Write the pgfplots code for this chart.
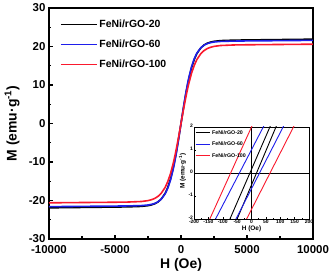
\documentclass[border=0pt]{standalone}
\usepackage{pgfplots}
\pgfplotsset{compat=1.18}
\usepackage{fontspec}
\setmainfont{Liberation Sans}
\definecolor{cblue}{RGB}{30,30,235}
\definecolor{cred}{RGB}{250,25,45}
\begin{document}
\begin{tikzpicture}
\begin{axis}[name=main, at={(0,0)}, anchor=south west,
  scale only axis, width=264bp, height=231bp,
  xmin=-10000, xmax=10000, ymin=-30, ymax=30,
  xtick={-10000,-5000,0,5000,10000}, minor xtick={-7500,-2500,2500,7500},
  ytick={-30,-20,...,30}, minor ytick={-25,-15,...,25},
  tick align=inside, xtick pos=left, ytick pos=left,
  major tick length=4bp, minor tick length=2.5bp,
  axis line style={line width=1.8bp},
  every tick/.style={line width=1.4bp, black},
  scaled x ticks=false,
  /pgf/number format/assume math mode=true,
  xticklabel style={/pgf/number format/1000 sep={}, yshift=-2.5bp},
  tick label style={font=\bfseries\fontsize{11.5}{11.5}\selectfont},
  xlabel={H (Oe)}, ylabel={M (emu\textperiodcentered g\textsuperscript{-1})},
  label style={font=\bfseries\fontsize{14}{14}\selectfont},
  xlabel style={at={(axis description cs:0.5,-0.113)}, anchor=center},
  ylabel style={at={(axis description cs:-0.14,0.5)}, anchor=center},
  legend cell align=left,
  legend style={draw=none, fill=none, at={(axis description cs:0,1)}, anchor=north west,
    xshift=8bp, yshift=-8bp, font=\bfseries\fontsize{10.5}{10.5}\selectfont,
    row sep=7bp},
  legend image code/.code={\draw[#1, line width=1.2bp] (0bp,0bp) -- (36bp,0bp);},
]
\addplot[black, line width=1.6bp] coordinates {
(-10000,-21.90) (-7000,-21.78) (-5000,-21.70) (-4000,-21.65) (-3000,-21.53) (-2500,-21.34)
(-2250,-21.16) (-2000,-20.87) (-1750,-20.40) (-1500,-19.64) (-1200,-18.13) (-1000,-16.59)
(-800,-14.50) (-600,-11.75) (-500,-10.12) (-400,-8.34) (-300,-6.39) (-200,-4.34) (-100,-2.19)
(0,0) (100,2.19) (200,4.34) (300,6.39) (400,8.34) (500,10.12) (600,11.75) (800,14.50)
(1000,16.59) (1200,18.13) (1500,19.64) (1750,20.40) (2000,20.87) (2250,21.16) (2500,21.34)
(3000,21.53) (4000,21.65) (5000,21.70) (7000,21.78) (10000,21.90)};
\addlegendentry{FeNi/rGO-20}
\addplot[cblue, line width=1.6bp] coordinates {
(-10000,-21.60) (-7000,-21.51) (-5000,-21.45) (-4000,-21.41) (-3000,-21.32) (-2500,-21.17)
(-2250,-21.01) (-2000,-20.77) (-1750,-20.35) (-1500,-19.67) (-1200,-18.27) (-1000,-16.80)
(-800,-14.76) (-600,-12.02) (-500,-10.39) (-400,-8.56) (-300,-6.59) (-200,-4.47) (-100,-2.26)
(0,0) (100,2.26) (200,4.47) (300,6.59) (400,8.56) (500,10.39) (600,12.02) (800,14.76)
(1000,16.80) (1200,18.27) (1500,19.67) (1750,20.35) (2000,20.77) (2250,21.01) (2500,21.17)
(3000,21.32) (4000,21.41) (5000,21.45) (7000,21.51) (10000,21.60)};
\addlegendentry{FeNi/rGO-60}
\addplot[cred, line width=1.6bp] coordinates {
(-10000,-20.60) (-7000,-20.51) (-5000,-20.45) (-4000,-20.40) (-3000,-20.26) (-2500,-20.03)
(-2250,-19.81) (-2000,-19.48) (-1750,-18.95) (-1500,-18.14) (-1200,-16.58) (-1000,-15.07)
(-800,-13.06) (-600,-10.50) (-500,-9.01) (-400,-7.39) (-300,-5.66) (-200,-3.83) (-100,-1.93)
(0,0) (100,1.93) (200,3.83) (300,5.66) (400,7.39) (500,9.01) (600,10.50) (800,13.06)
(1000,15.07) (1200,16.58) (1500,18.14) (1750,18.95) (2000,19.48) (2250,19.81) (2500,20.03)
(3000,20.26) (4000,20.40) (5000,20.45) (7000,20.51) (10000,20.60)};
\addlegendentry{FeNi/rGO-100}
\end{axis}
\begin{axis}[at={(145bp,20bp)}, anchor=south west,
  scale only axis, width=115bp, height=92bp,
  xmin=-200, xmax=200, ymin=-2, ymax=2,
  xtick={-200,-150,...,200}, ytick={-2,-1,...,2},
  minor xtick={-175,-125,...,175}, minor ytick={-1.5,-0.5,...,1.5},
  tick align=inside, xtick pos=left, ytick pos=left,
  major tick length=2bp, minor tick length=1.2bp,
  axis line style={line width=0.7bp},
  every tick/.style={line width=0.5bp, black},
  axis background/.style={fill=white},
  /pgf/number format/assume math mode=true,
  tick label style={font=\bfseries\fontsize{5}{5}\selectfont, inner sep=0.8bp},
  yticklabel style={yshift=0.8bp},
  xlabel={H (Oe)}, ylabel={M (emu\textperiodcentered g\textsuperscript{-1})},
  label style={font=\bfseries\fontsize{6.5}{6.5}\selectfont},
  xlabel style={at={(axis description cs:0.5,-0.11)}, anchor=center},
  ylabel style={at={(axis description cs:-0.10,0.52)}, anchor=center},
  legend cell align=left,
  legend style={draw=none, fill=none, at={(axis description cs:0,1)}, anchor=north west,
    xshift=0bp, yshift=0bp, font=\bfseries\fontsize{5.3}{5.3}\selectfont,
    row sep=2.2bp, inner sep=1bp},
  legend image code/.code={\draw[#1] (0bp,0bp) -- (14bp,0bp);},
]
\draw[black, line width=0.5bp] (axis cs:-200,0) -- (axis cs:200,0);
\draw[black, line width=0.5bp] (axis cs:0,-2) -- (axis cs:0,2);
\addplot[black, line width=0.9bp] coordinates {(-109.75,-3) (98.75,3) (118.75,3) (-83.75,-3) (-109.75,-3)};
\addlegendentry{FeNi/rGO-20}
\addplot[cblue, line width=0.9bp] coordinates {(-166.5,-3) (82.5,3) (151,3) (-95,-3) (-166.5,-3)};
\addlegendentry{FeNi/rGO-60}
\addplot[cred, line width=0.9bp] coordinates {(-181.25,-3) (36.25,3) (186.75,3) (-57.75,-3) (-181.25,-3)};
\addlegendentry{FeNi/rGO-100}
\end{axis}
\pgfresetboundingbox
\path (-49bp,-37bp) rectangle (284bp,239bp);
\end{tikzpicture}
\end{document}
